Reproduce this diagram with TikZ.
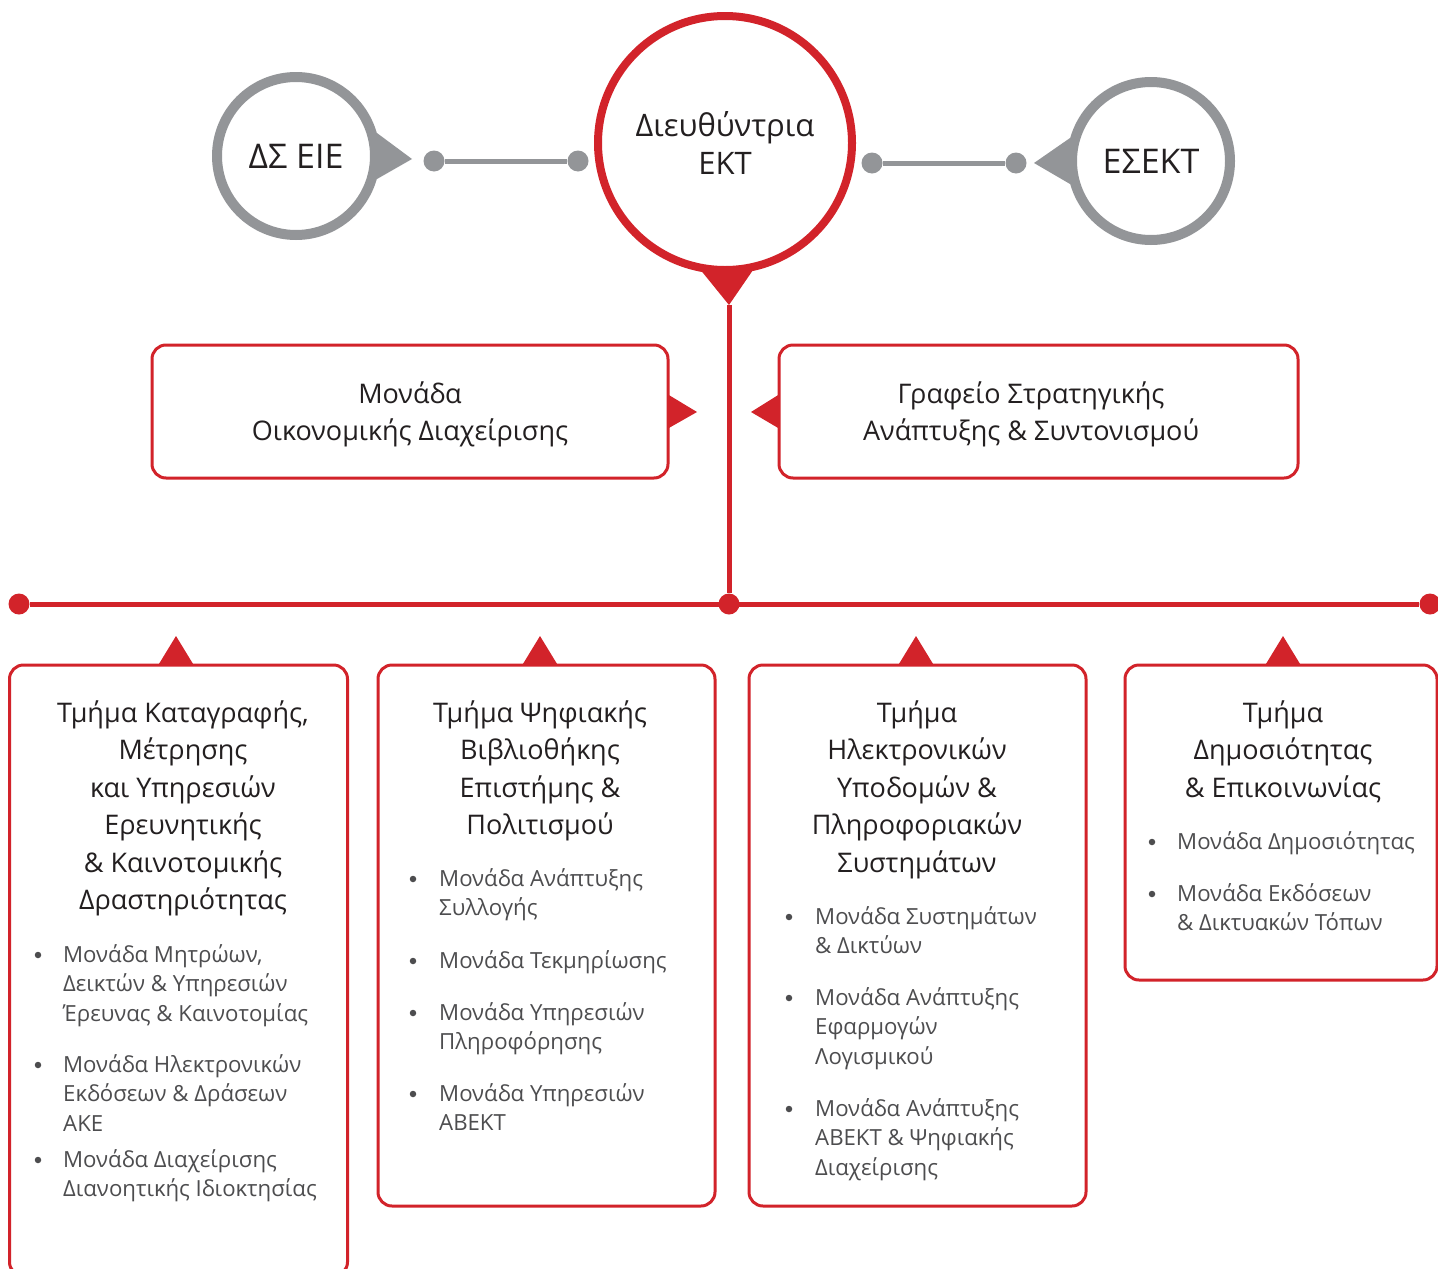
\documentclass[tikz,border=0pt]{standalone}
\usepackage{fontspec}
\setmainfont{Open Sans}
\usetikzlibrary{calc}
\definecolor{ekred}{HTML}{D2232A}
\definecolor{ekgray}{HTML}{939598}
\definecolor{ektext}{HTML}{231F20}
\definecolor{ekitem}{HTML}{4D4D4F}
\tikzset{
 sidecirc/.style={circle, draw=ekgray, line width=10pt, fill=white, minimum size=158pt, inner sep=0pt, font=\fontsize{34}{40}\selectfont, text=ektext},
 maincirc/.style={circle, draw=ekred, line width=8pt, fill=white, minimum size=254pt, inner sep=0pt, align=center, font=\fontsize{31}{38}\selectfont, text=ektext},
 gdot/.style={circle, fill=ekgray, minimum size=21pt, inner sep=0pt},
 rdot/.style={circle, fill=ekred, minimum size=21pt, inner sep=0pt},
 gline/.style={draw=ekgray, line width=5pt},
 rline/.style={draw=ekred, line width=5pt},
 rbox/.style={draw=ekred, line width=3pt, rounded corners=14pt, fill=white, inner sep=0pt},
 midtxt/.style={align=center, font=\fontsize{27}{37}\selectfont, text=ektext, anchor=base, inner sep=0pt},
 ttl/.style={font=\fontsize{27}{37.5}\selectfont, text=ektext, align=center, anchor=base, inner sep=0pt},
 itm/.style={font=\fontsize{22.2}{29.5}\selectfont, text=ekitem, align=left, anchor=base west, inner sep=0pt},
 bul/.style={circle, fill=ekitem, minimum size=6.5pt, inner sep=0pt},
}
\begin{document}
\begin{tikzpicture}[x=1pt,y=-1pt]
\useasboundingbox (0,0) rectangle (1438,1269);
% top row
\node[sidecirc] (ds) at (296,156) {ΔΣ ΕΙΕ};
\node[maincirc] (dir) at (725,143) {Διευθύντρια\\ΕΚΤ};
\node[sidecirc] (esekt) at (1151,161) {ΕΣΕΚΤ};
\coordinate (dstip) at (412,159);
\coordinate (estip) at (1034,163);
\coordinate (dtip) at (729,305);
\fill[ekgray] (ds.16) -- (dstip) -- (ds.-16) -- cycle;
\fill[ekgray] (esekt.164) -- (estip) -- (esekt.196) -- cycle;
\fill[ekred] (dir.-100) -- (dtip) -- (dir.-78) -- cycle;
\node[gdot] (g1) at (434,161) {};
\node[gdot] (g2) at (578,161) {};
\node[gdot] (g3) at (872,163) {};
\node[gdot] (g4) at (1016,163) {};
\draw[gline] (g1) -- (g2);
\draw[gline] (g3) -- (g4);
% middle boxes
\node[rbox, minimum width=516pt, minimum height=133pt] (fin) at (410,411.5) {};
\node[rbox, minimum width=519pt, minimum height=133pt] (gsa) at (1038.5,411.5) {};
\node[midtxt] (fint) at (410,440) {Μονάδα\\Οικονομικής Διαχείρισης};
\node[midtxt] (gsat) at (1031,440) {Γραφείο Στρατηγικής\\Ανάπτυξης \& Συντονισμού};
\coordinate (fintip) at (697,412);
\coordinate (gsatip) at (751,412);
\fill[ekred] ($(fin.east)+(-1.5,-17)$) -- (fintip) -- ($(fin.east)+(-1.5,17)$) -- cycle;
\fill[ekred] ($(gsa.west)+(1.5,-17)$) -- (gsatip) -- ($(gsa.west)+(1.5,17)$) -- cycle;
% spine
\node[rdot] (jl) at (19,604) {};
\node[rdot] (jc) at (729,604) {};
\node[rdot] (jr) at (1430,604) {};
\draw[rline] (dtip) -- (jc);
\draw[rline] (jl) -- (jr);
% bottom boxes
\node[rbox, minimum width=338pt, minimum height=611pt] (b1) at (178.5,970.5) {};
\node[rbox, minimum width=337pt, minimum height=541pt] (b2) at (546.5,935.5) {};
\node[rbox, minimum width=337pt, minimum height=541pt] (b3) at (917.5,935.5) {};
\node[rbox, minimum width=312pt, minimum height=315pt] (b4) at (1281,822.5) {};
\foreach \n/\x in {1/176,2/540,3/916,4/1283}{
  \coordinate (t\n) at (\x,636);
  \fill[ekred] (t\n) -- ++(-18,29.5) -- ++(36,0) -- cycle;
}
% box 1 (text node positions = baseline of the last line; bullets at first line)
\node[ttl] (h1) at (183,909.5) {Τμήμα Καταγραφής,\\Μέτρησης\\και Υπηρεσιών\\Ερευνητικής\\\& Καινοτομικής\\Δραστηριότητας};
\node[bul] (p11) at (38,955) {};
\node[itm] (i11) at (63,1021) {Μονάδα Μητρώων,\\Δεικτών \& Υπηρεσιών\\Έρευνας \& Καινοτομίας};
\node[bul] (p12) at (38,1065) {};
\node[itm] (i12) at (63,1131) {Μονάδα Ηλεκτρονικών\\Εκδόσεων \& Δράσεων\\ΑΚΕ};
\node[bul] (p13) at (38,1160) {};
\node[itm] (i13) at (63,1196.5) {Μονάδα Διαχείρισης\\Διανοητικής Ιδιοκτησίας};
% box 2
\node[ttl] (h2) at (540,834.5) {Τμήμα Ψηφιακής\\Βιβλιοθήκης\\Επιστήμης \&\\Πολιτισμού};
\node[bul] (p21) at (413,879) {};
\node[itm] (i21) at (439,915.5) {Μονάδα Ανάπτυξης\\Συλλογής};
\node[bul] (p22) at (413,961) {};
\node[itm] (i22) at (439,968) {Μονάδα Τεκμηρίωσης};
\node[bul] (p23) at (413,1013) {};
\node[itm] (i23) at (439,1049.5) {Μονάδα Υπηρεσιών\\Πληροφόρησης};
\node[bul] (p24) at (413,1094) {};
\node[itm] (i24) at (439,1130.5) {Μονάδα Υπηρεσιών\\ΑΒΕΚΤ};
% box 3
\node[ttl] (h3) at (917,872) {Τμήμα\\Ηλεκτρονικών\\Υποδομών \&\\Πληροφοριακών\\Συστημάτων};
\node[bul] (p31) at (789,917) {};
\node[itm] (i31) at (815,953.5) {Μονάδα Συστημάτων\\\& Δικτύων};
\node[bul] (p32) at (789,998) {};
\node[itm] (i32) at (815,1064) {Μονάδα Ανάπτυξης\\Εφαρμογών\\Λογισμικού};
\node[bul] (p33) at (789,1109) {};
\node[itm] (i33) at (815,1175) {Μονάδα Ανάπτυξης\\ΑΒΕΚΤ \& Ψηφιακής\\Διαχείρισης};
% box 4
\node[ttl] (h4) at (1283,797) {Τμήμα\\Δημοσιότητας\\\& Επικοινωνίας};
\node[bul] (p41) at (1152,842) {};
\node[itm] (i41) at (1177,849) {Μονάδα Δημοσιότητας};
\node[bul] (p42) at (1152,894) {};
\node[itm] (i42) at (1177,930.5) {Μονάδα Εκδόσεων\\\& Δικτυακών Τόπων};
\end{tikzpicture}
\end{document}
